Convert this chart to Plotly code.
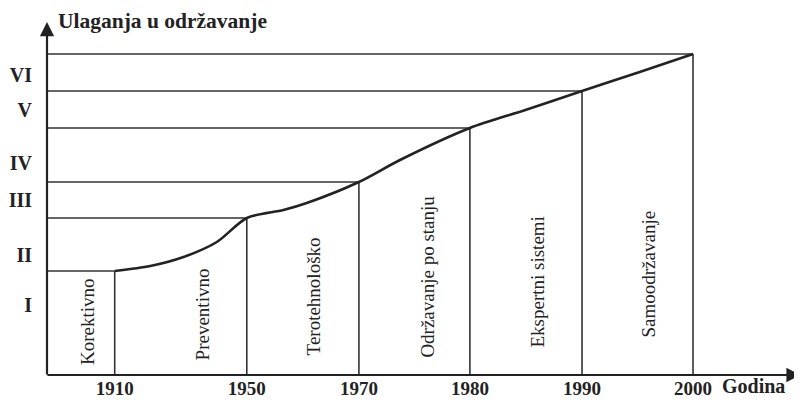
import plotly.graph_objects as go

# ---- data ----
years = ["1910", "1950", "1970", "1980", "1990", "2000"]
boundaries = [0.61, 1.80, 2.81, 3.81, 4.82, 5.82]          # period boundaries on the time axis
levels = [1.04, 1.57, 1.93, 2.47, 2.84, 3.21]              # investment level reached at each boundary
curve_x = [0.61, 0.93, 1.23, 1.53, 1.80, 2.13, 2.34, 2.81, 3.18, 3.81, 4.31, 4.82, 5.34, 5.82]
curve_y = [1.04, 1.09, 1.18, 1.33, 1.57, 1.65, 1.72, 1.93, 2.15, 2.47, 2.65, 2.84, 3.03, 3.21]
roman = ["I", "II", "III", "IV", "V", "VI"]
roman_vals = [0.70, 1.20, 1.75, 2.12, 2.65, 3.00]
phases = ["Korektivno", "Preventivno", "Terotehnološko",
          "Održavanje po stanju", "Ekspertni sistemi", "Samoodržavanje"]

# ---- layout helpers ----
phase_x = [0.36, 1.40, 2.40, 3.42, 4.41, 5.41]
phase_y = [0.54, 0.61, 0.79, 0.98, 0.93, 1.01]
SERIF = "Liberation Serif, Times New Roman, serif"
INK = "#222222"
PAGE_OFFSET = 8          # default body margin of the html page
PX_X, PX_Y = 111, 100    # pixels per axis unit

L = 47 - PAGE_OFFSET
B = 400 - (375 - PAGE_OFFSET)
PLOT_H = 400 - B

fig = go.Figure()

# grid of horizontal and vertical lines
hx, hy = [], []
for b, l in zip(boundaries, levels):
    hx += [0, b, None, b, b, None]
    hy += [l, l, None, 0, l, None]
fig.add_trace(go.Scatter(x=hx, y=hy, mode="lines",
                         line=dict(color="#333333", width=1.6),
                         hoverinfo="skip", showlegend=False, cliponaxis=False))

# investment curve
fig.add_trace(go.Scatter(x=curve_x, y=curve_y, mode="lines",
                         line=dict(color=INK, width=2.6, shape="spline", smoothing=0.8),
                         hoverinfo="skip", showlegend=False, cliponaxis=False))

annotations = []
# axes with arrows
annotations.append(dict(x=6.79, y=0, ax=-0.01, ay=0, xref="x", yref="y", axref="x", ayref="y",
                        text="", showarrow=True, arrowhead=2, arrowsize=1.3, arrowwidth=2.2,
                        arrowcolor=INK))
annotations.append(dict(x=0, y=3.53, ax=0, ay=-0.01, xref="x", yref="y", axref="x", ayref="y",
                        text="", showarrow=True, arrowhead=2, arrowsize=1.3, arrowwidth=2.2,
                        arrowcolor=INK))
# phase labels (vertical)
for name, px, py in zip(phases, phase_x, phase_y):
    annotations.append(dict(x=px, y=py, xref="x", yref="y", text=name, showarrow=False,
                            textangle=-90, font=dict(family=SERIF, size=19, color=INK)))
# axis titles
annotations.append(dict(x=0.08, y=3.54, xref="x", yref="y", text="Ulaganja u održavanje",
                        showarrow=False, xanchor="left", yanchor="middle",
                        font=dict(family=SERIF, size=21.5, color=INK, weight="bold")))
annotations.append(dict(x=6.06, y=-11 / PLOT_H, xref="x", yref="paper", text="Godina",
                        showarrow=False, xanchor="left", yanchor="middle",
                        font=dict(family=SERIF, size=20, color=INK, weight="bold")))

fig.update_layout(
    width=802, height=400,
    margin=dict(l=L, r=0, t=0, b=B, autoexpand=False),
    paper_bgcolor="white", plot_bgcolor="white",
    annotations=annotations,
    xaxis=dict(range=[0, (802 - L) / PX_X], tickvals=boundaries, ticktext=years,
               showgrid=False, zeroline=False, showline=False, automargin=False,
               ticks="", ticklen=0,
               tickfont=dict(family=SERIF, size=19, color=INK, weight="bold"),
               fixedrange=True),
    yaxis=dict(range=[0, PLOT_H / PX_Y], tickvals=roman_vals, ticktext=roman,
               showgrid=False, zeroline=False, showline=False, automargin=False,
               ticks="outside", ticklen=10, tickcolor="rgba(0,0,0,0)",
               tickfont=dict(family=SERIF, size=20, color=INK, weight="bold"),
               fixedrange=True),
)

fig.write_html("out.html")
